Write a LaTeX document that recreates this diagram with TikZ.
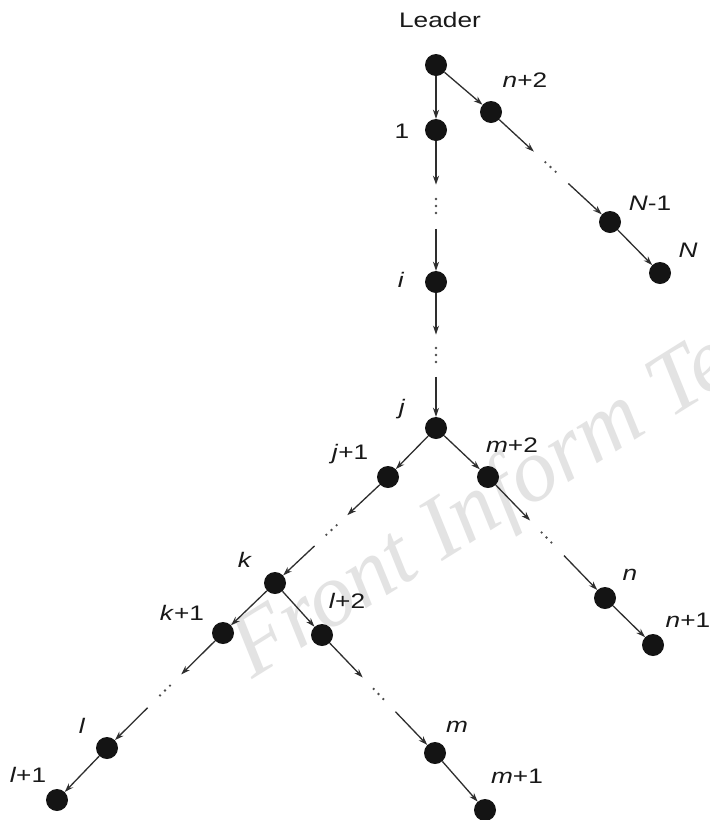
\documentclass[tikz,border=0pt]{standalone}
\usepackage{fontspec}
\newfontfamily\labfont{Liberation Sans}[FakeStretch=1.25]
\newfontfamily\wmfont{Liberation Serif}
\usetikzlibrary{arrows.meta,calc}
\tikzset{
  dotnode/.style={circle,fill=black!92,inner sep=0pt,minimum size=22pt},
  lab/.style={font=\labfont\fontsize{21}{24}\selectfont,anchor=base,inner sep=0pt,text=black!90},
  arr/.style={draw=black!82,line width=1.3pt,-{Stealth[length=9pt,width=6pt]}},
  gapdot/.style={fill=black!70},
  wm/.style={font=\wmfont\itshape\fontsize{90}{92}\selectfont,text=black!11,anchor=base west,inner sep=0pt,rotate=32}
}
\newcommand\gapedge[2]{%
  \draw[arr] (#1) -- ($(#1)!0.36!(#2)$);
  \path ($(#1)!0.5!(#2)$) coordinate (gm);
  \fill[gapdot] (gm) circle (1.3pt) ($(gm)!7pt!(#1)$) circle (1.3pt) ($(gm)!7pt!(#2)$) circle (1.3pt);
  \draw[arr] ($(#1)!0.65!(#2)$) -- (#2);
}
\begin{document}
\begin{tikzpicture}[x=1pt,y=-1pt]
\clip (0,0) rectangle (710,820);
\fill[white] (0,0) rectangle (710,820);
% watermark
\node[wm] (wmark) at (252,680) {Front Inform Te};
% nodes
\node[dotnode] (L)   at (436,65)  {};
\node[dotnode] (n1)  at (436,130) {};
\node[dotnode] (ni)  at (436,282) {};
\node[dotnode] (nj)  at (436,428) {};
\node[dotnode] (np2) at (491,112) {};
\node[dotnode] (nN1) at (610,222) {};
\node[dotnode] (nN)  at (660,273) {};
\node[dotnode] (nj1) at (388,477) {};
\node[dotnode] (nm2) at (488,477) {};
\node[dotnode] (nk)  at (275,583) {};
\node[dotnode] (nn)  at (605,598) {};
\node[dotnode] (nn1) at (653,645) {};
\node[dotnode] (nk1) at (223,633) {};
\node[dotnode] (nl2) at (322,635) {};
\node[dotnode] (nl)  at (107,748) {};
\node[dotnode] (nl1) at (57,800)  {};
\node[dotnode] (nm)  at (435,753) {};
\node[dotnode] (nm1) at (485,810) {};
% labels
\node[lab] (tL)   at (440,27)  {Leader};
\node[lab] (tp2)  at (525,87)  {\textit{n}+2};
\node[lab] (t1)   at (402,138) {1};
\node[lab] (tN1)  at (650,210) {\textit{N}-1};
\node[lab] (tN)   at (688,257) {\textit{N}};
\node[lab] (ti)   at (401,287) {\textit{i}};
\node[lab] (tj)   at (402,414) {\textit{j}};
\node[lab] (tj1)  at (350,459) {\textit{j}+1};
\node[lab] (tm2)  at (512,452) {\textit{m}+2};
\node[lab] (tk)   at (245,567) {\textit{k}};
\node[lab] (tl2)  at (347,608) {\textit{l}+2};
\node[lab] (tn)   at (630,580) {\textit{n}};
\node[lab] (tn1)  at (688,627) {\textit{n}+1};
\node[lab] (tk1)  at (182,620) {\textit{k}+1};
\node[lab] (tl)   at (82,733)  {\textit{l}};
\node[lab] (tl1)  at (28,782)  {\textit{l}+1};
\node[lab] (tm)   at (457,732) {\textit{m}};
\node[lab] (tm1)  at (517,783) {\textit{m}+1};
% edges
\draw[arr] (L) -- (n1);
\draw[arr] (L) -- (np2);
\gapedge{n1}{ni}
\gapedge{ni}{nj}
\gapedge{np2}{nN1}
\draw[arr] (nN1) -- (nN);
\draw[arr] (nj) -- (nj1);
\draw[arr] (nj) -- (nm2);
\gapedge{nj1}{nk}
\gapedge{nm2}{nn}
\draw[arr] (nn) -- (nn1);
\draw[arr] (nk) -- (nk1);
\draw[arr] (nk) -- (nl2);
\gapedge{nk1}{nl}
\draw[arr] (nl) -- (nl1);
\gapedge{nl2}{nm}
\draw[arr] (nm) -- (nm1);
\end{tikzpicture}
\end{document}
